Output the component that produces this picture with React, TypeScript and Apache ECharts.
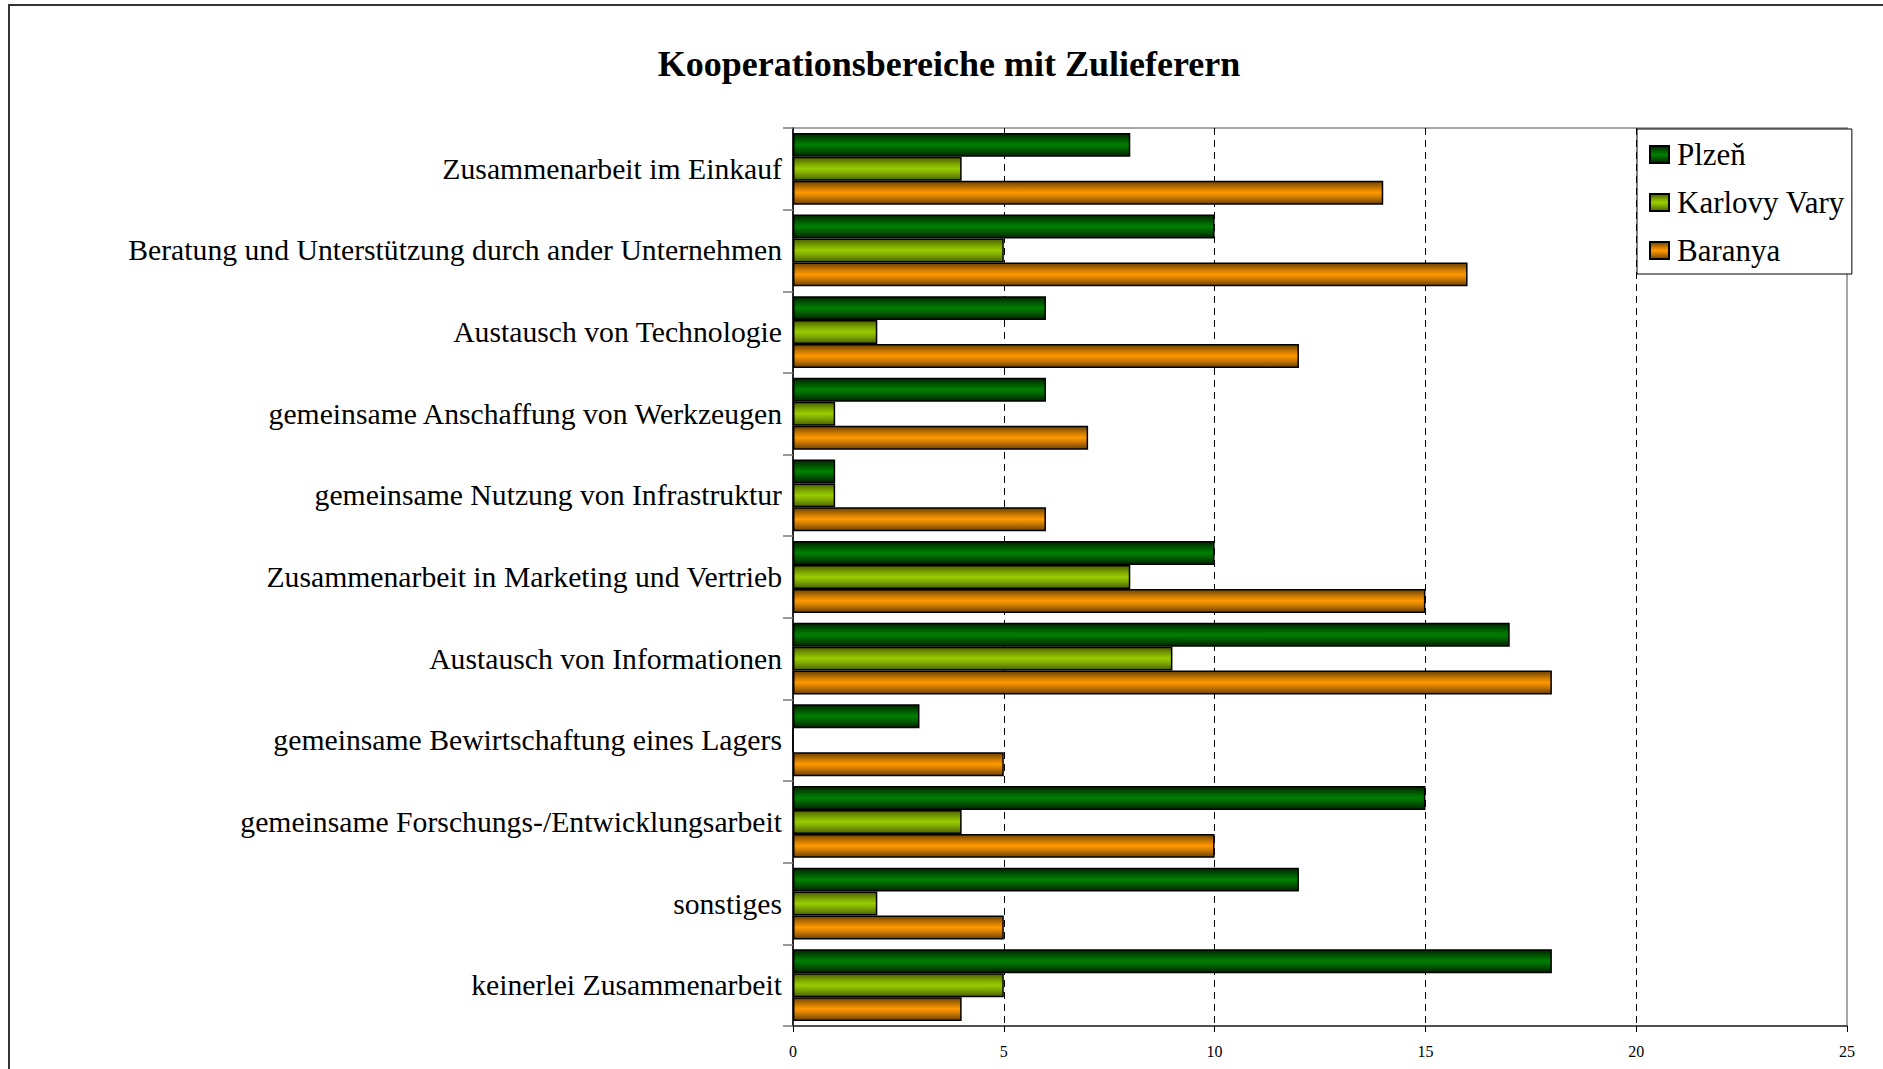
import React, { useEffect, useRef } from "react";
import * as echarts from "echarts";

const categories = [
  "Zusammenarbeit im Einkauf",
  "Beratung und Unterstützung durch ander Unternehmen",
  "Austausch von Technologie",
  "gemeinsame Anschaffung von Werkzeugen",
  "gemeinsame Nutzung von Infrastruktur",
  "Zusammenarbeit in Marketing und Vertrieb",
  "Austausch von Informationen",
  "gemeinsame Bewirtschaftung eines Lagers",
  "gemeinsame Forschungs-/Entwicklungsarbeit",
  "sonstiges",
  "keinerlei Zusammenarbeit",
];
const plzen = [8, 10, 6, 6, 1, 10, 17, 3, 15, 12, 18];
const karlovyVary = [4, 5, 2, 1, 1, 8, 9, 0, 4, 2, 5];
const baranya = [14, 16, 12, 7, 6, 15, 18, 5, 10, 5, 4];
const xTicks = [0, 5, 10, 15, 20, 25];

const FONT = "'Liberation Serif', 'Times New Roman', serif";

function grad(edge: string, mid: string, center: string) {
  return new echarts.graphic.LinearGradient(0, 0, 0, 1, [
    { offset: 0, color: edge },
    { offset: 0.3, color: mid },
    { offset: 0.5, color: center },
    { offset: 0.7, color: mid },
    { offset: 1, color: edge },
  ]);
}

export default function App() {
  const ref = useRef<HTMLDivElement>(null);
  useEffect(() => {
    document.body.style.margin = "0";
    const chart = echarts.init(ref.current!, null, { renderer: "svg" });
    const mk = (name: string, data: number[], color: any) => ({
      name,
      type: "bar",
      data,
      barGap: "0%",
      barCategoryGap: "12%",
      itemStyle: { color, borderColor: "#000", borderWidth: 1.5 },
    });
    chart.setOption({
      animation: false,
      backgroundColor: "#fff",
      title: {
        text: "Kooperationsbereiche mit Zulieferern",
        left: 944,
        textAlign: "center",
        top: 41,
        textStyle: { fontFamily: FONT, fontSize: 36, fontWeight: "bold", color: "#000" },
      },
      graphic: [
        {
          type: "rect",
          shape: { x: 9, y: 5, width: 1900, height: 1100 },
          style: { fill: "none", stroke: "#333", lineWidth: 2 },
          silent: true,
        },
      ],
      legend: {
        orient: "vertical",
        left: 1637,
        top: 129,
        padding: [10, 7, 8, 12],
        itemGap: 17,
        itemWidth: 19,
        itemHeight: 17,
        backgroundColor: "#fff",
        borderColor: "#000",
        borderWidth: 1,
        icon: "rect",
        textStyle: { fontFamily: FONT, fontSize: 31, color: "#000", lineHeight: 31, padding: [0, 0, 0, 3] },
        data: ["Plzeň", "Karlovy Vary", "Baranya"],
      },
      grid: {
        left: 793,
        top: 128,
        right: 36,
        bottom: 43,
        show: true,
        borderColor: "#888",
        borderWidth: 1.5,
        containLabel: false,
      },
      xAxis: {
        type: "value",
        min: xTicks[0],
        max: xTicks[xTicks.length - 1],
        interval: 5,
        axisLine: { show: true, lineStyle: { color: "#333", width: 1.5 } },
        axisTick: { show: true, length: 6, lineStyle: { color: "#000" } },
        axisLabel: { fontFamily: FONT, fontSize: 16, color: "#000", margin: 17 },
        splitLine: {
          show: true,
          showMinLine: false,
          showMaxLine: false,
          lineStyle: { color: "#000", type: [7, 5], width: 1 },
        },
      },
      yAxis: {
        type: "category",
        data: categories,
        inverse: true,
        axisLine: { show: true, lineStyle: { color: "#000", width: 1.5 } },
        axisTick: { show: true, length: 10, inside: false, lineStyle: { color: "#777", width: 1.5 } },
        axisLabel: { fontFamily: FONT, fontSize: 29.7, color: "#000", margin: 11 },
        splitLine: { show: false },
      },
      series: [
        mk("Plzeň", plzen, grad("#002400", "#005e00", "#008000")),
        mk("Karlovy Vary", karlovyVary, grad("#4a6200", "#7fa800", "#99cc00")),
        mk("Baranya", baranya, grad("#6e4200", "#cc7a00", "#ff9900")),
      ],
    });
    return () => chart.dispose();
  }, []);
  return <div ref={ref} style={{ width: 1883, height: 1069 }} />;
}
